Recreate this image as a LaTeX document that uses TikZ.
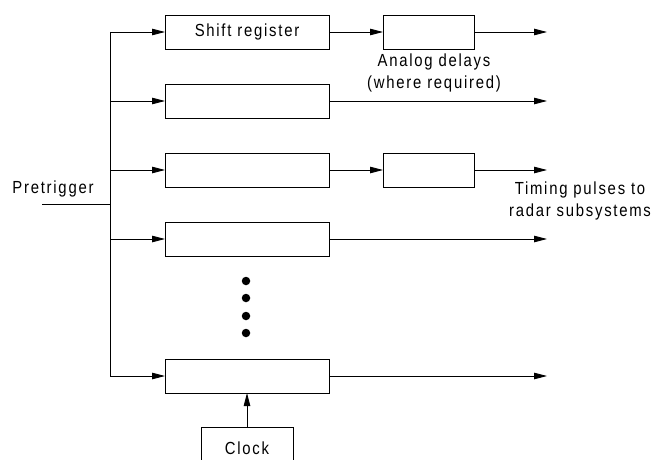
\documentclass[tikz,border=0pt]{standalone}
\usepackage{fontspec}
\setmainfont{Liberation Sans}[FakeStretch=0.85,LetterSpace=10]
\usetikzlibrary{arrows.meta}
\begin{document}
\begin{tikzpicture}[x=1pt,y=-1pt,
  font=\fontsize{17.5}{21.5}\selectfont,
  line width=0.9pt,
  regbox/.style={draw,minimum width=164pt,minimum height=34pt,inner sep=0pt,outer sep=0pt},
  delaybox/.style={draw,minimum width=91pt,minimum height=34pt,inner sep=0pt,outer sep=0pt},
  lbl/.style={align=center,inner sep=0pt},
  dotmark/.style={circle,fill,minimum size=8.5pt,inner sep=0pt},
  arr/.style={-{Triangle[length=13pt,width=6.5pt]}}]
\useasboundingbox (0,0) rectangle (658,460);
\clip (0,0) rectangle (658,460);
% registers
\node[regbox] (r1) at (247,32) {Shift register};
\node[regbox] (r2) at (247,101) {};
\node[regbox] (r3) at (247,170) {};
\node[regbox] (r4) at (247,239) {};
\node[regbox] (r5) at (247,376) {};
% analog delays
\node[delaybox] (d1) at (428.5,32) {};
\node[delaybox] (d3) at (428.5,170) {};
% clock
\node[draw,minimum width=92pt,minimum height=46pt,inner sep=0pt,outer sep=0pt,anchor=north] (clk) at (247,427) {};
\node[lbl] (clkt) at (247,448) {Clock};
% bus
\coordinate (pin) at (42,204);
\coordinate (bt) at (110,32);
\coordinate (bb) at (110,376);
\coordinate (bm) at (110,204);
\draw (pin) -- (bm);
\draw (bt) -- (bb);
\node[lbl] (pre) at (53,189) {Pretrigger};
\foreach \i in {1,...,5}{
  \draw[arr] (bt |- r\i) -- (r\i.west);
}
% outputs
\coordinate (o1) at (547,32);
\coordinate (o2) at (547,101);
\coordinate (o3) at (547,170);
\coordinate (o4) at (547,239);
\coordinate (o5) at (547,376);
\draw[arr] (r1.east) -- (d1.west);
\draw[arr] (r3.east) -- (d3.west);
\draw[arr] (d1.east) -- (o1);
\draw[arr] (d3.east) -- (o3);
\draw[arr] (r2.east) -- (o2);
\draw[arr] (r4.east) -- (o4);
\draw[arr] (r5.east) -- (o5);
\draw[arr] (clk.north) -- (r5.south);
% labels
\node[lbl] (adl) at (434,73) {Analog delays\\(where required)};
\node[lbl] (tpl) at (580,201) {Timing pulses to\\radar subsystems};
% dots
\node[dotmark] (p1) at (246,281) {};
\node[dotmark] (p2) at (246,298) {};
\node[dotmark] (p3) at (246,316) {};
\node[dotmark] (p4) at (246,333) {};
\end{tikzpicture}
\end{document}
